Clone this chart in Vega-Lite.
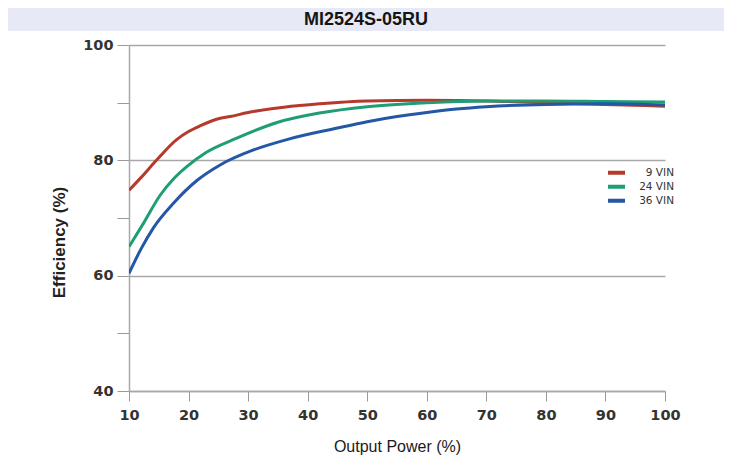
{
  "$schema": "https://vega.github.io/schema/vega-lite/v6.json",
  "padding": {"left": 8, "top": 8, "right": 0, "bottom": 0},
  "background": "white",
  "config": {"view": {"stroke": null}},
  "bounds": "flush",
  "spacing": 14,
  "vconcat": [
    {
      "width": 716,
      "height": 23,
      "view": {"fill": "#e7eaf6", "stroke": null},
      "data": {"values": [{"title": "MI2524S-05RU"}]},
      "mark": {"type": "text", "font": "Liberation Sans", "fontWeight": "bold", "fontSize": 18, "color": "#151515"},
      "encoding": {"text": {"field": "title", "type": "nominal"}}
    },
    {
      "bounds": "flush",
      "spacing": 21,
      "hconcat": [
        {
          "width": 100,
          "height": 346,
          "view": {"stroke": null},
          "data": {"values": []},
          "mark": "point",
          "encoding": {}
        },
        {
          "width": 536,
          "height": 346,
          "data": {
            "values": [
              {"vin": "9 VIN", "power": 10, "efficiency": 74.8},
              {"vin": "9 VIN", "power": 12, "efficiency": 77.0},
              {"vin": "9 VIN", "power": 14.6, "efficiency": 80.0},
              {"vin": "9 VIN", "power": 18, "efficiency": 83.6},
              {"vin": "9 VIN", "power": 20, "efficiency": 85.0},
              {"vin": "9 VIN", "power": 22, "efficiency": 86.0},
              {"vin": "9 VIN", "power": 25, "efficiency": 87.2},
              {"vin": "9 VIN", "power": 27, "efficiency": 87.6},
              {"vin": "9 VIN", "power": 30, "efficiency": 88.3},
              {"vin": "9 VIN", "power": 36, "efficiency": 89.2},
              {"vin": "9 VIN", "power": 42, "efficiency": 89.8},
              {"vin": "9 VIN", "power": 50, "efficiency": 90.3},
              {"vin": "9 VIN", "power": 60, "efficiency": 90.4},
              {"vin": "9 VIN", "power": 70, "efficiency": 90.3},
              {"vin": "9 VIN", "power": 80, "efficiency": 90.0},
              {"vin": "9 VIN", "power": 90, "efficiency": 89.7},
              {"vin": "9 VIN", "power": 100, "efficiency": 89.4},
              {"vin": "24 VIN", "power": 10, "efficiency": 65.0},
              {"vin": "24 VIN", "power": 12.5, "efficiency": 69.2},
              {"vin": "24 VIN", "power": 15.2, "efficiency": 73.9},
              {"vin": "24 VIN", "power": 17.5, "efficiency": 76.8},
              {"vin": "24 VIN", "power": 19.7, "efficiency": 78.9},
              {"vin": "24 VIN", "power": 23, "efficiency": 81.4},
              {"vin": "24 VIN", "power": 28, "efficiency": 83.8},
              {"vin": "24 VIN", "power": 35, "efficiency": 86.6},
              {"vin": "24 VIN", "power": 42, "efficiency": 88.2},
              {"vin": "24 VIN", "power": 50, "efficiency": 89.3},
              {"vin": "24 VIN", "power": 60, "efficiency": 90.0},
              {"vin": "24 VIN", "power": 70, "efficiency": 90.3},
              {"vin": "24 VIN", "power": 80, "efficiency": 90.3},
              {"vin": "24 VIN", "power": 90, "efficiency": 90.2},
              {"vin": "24 VIN", "power": 100, "efficiency": 90.1},
              {"vin": "36 VIN", "power": 10, "efficiency": 60.4},
              {"vin": "36 VIN", "power": 12, "efficiency": 64.6},
              {"vin": "36 VIN", "power": 14.1, "efficiency": 68.3},
              {"vin": "36 VIN", "power": 17.5, "efficiency": 72.6},
              {"vin": "36 VIN", "power": 21.4, "efficiency": 76.5},
              {"vin": "36 VIN", "power": 25.3, "efficiency": 79.2},
              {"vin": "36 VIN", "power": 30.9, "efficiency": 81.8},
              {"vin": "36 VIN", "power": 36.5, "efficiency": 83.6},
              {"vin": "36 VIN", "power": 45, "efficiency": 85.6},
              {"vin": "36 VIN", "power": 50, "efficiency": 86.7},
              {"vin": "36 VIN", "power": 55, "efficiency": 87.6},
              {"vin": "36 VIN", "power": 60, "efficiency": 88.3},
              {"vin": "36 VIN", "power": 65, "efficiency": 88.9},
              {"vin": "36 VIN", "power": 70, "efficiency": 89.3},
              {"vin": "36 VIN", "power": 80, "efficiency": 89.7},
              {"vin": "36 VIN", "power": 90, "efficiency": 89.8},
              {"vin": "36 VIN", "power": 100, "efficiency": 89.6}
            ]
          },
          "mark": {"type": "line", "strokeWidth": 3, "interpolate": "monotone", "clip": true},
          "encoding": {
            "x": {
              "field": "power",
              "type": "quantitative",
              "scale": {"domain": [10, 100], "nice": false},
              "axis": {
                "values": [10, 20, 30, 40, 50, 60, 70, 80, 90, 100],
                "grid": false,
                "tickSize": 10,
                "tickColor": "#999999",
                "domainColor": "#a8a8a8",
                "domainWidth": 1.5,
                "labelFont": "DejaVu Sans",
                "labelFontWeight": "bold",
                "labelFontSize": 14.5,
                "labelColor": "#333333",
                "labelPadding": 7,
                "labelFlush": false,
                "title": "Output Power (%)",
                "titleFont": "Liberation Sans",
                "titleFontSize": 16,
                "titleFontWeight": "normal",
                "titleColor": "#1a1a1a",
                "titlePadding": 17
              }
            },
            "y": {
              "field": "efficiency",
              "type": "quantitative",
              "scale": {"domain": [40, 100], "nice": false},
              "axis": {
                "values": [40, 50, 60, 70, 80, 90, 100],
                "grid": true,
                "gridColor": "#a8a8a8",
                "gridWidth": 1.5,
                "gridOpacity": {"condition": {"test": "datum.value % 20 == 0", "value": 1}, "value": 0},
                "labelExpr": "datum.value % 20 == 0 ? datum.label : ''",
                "tickSize": 12,
                "tickColor": "#999999",
                "domainColor": "#a8a8a8",
                "domainWidth": 1.5,
                "labelFont": "DejaVu Sans",
                "labelFontWeight": "bold",
                "labelFontSize": 14.5,
                "labelColor": "#333333",
                "labelPadding": 4,
                "title": "Efficiency (%)",
                "titleFont": "Liberation Sans",
                "titleFontSize": 17,
                "titleFontWeight": "bold",
                "titleColor": "#222222",
                "titlePadding": 14,
                "titleY": 197
              }
            },
            "color": {
              "field": "vin",
              "type": "nominal",
              "scale": {"domain": ["9 VIN", "24 VIN", "36 VIN"], "range": ["#b53a2c", "#1f9e74", "#2457a6"]},
              "legend": {
                "title": null,
                "orient": "none",
                "legendX": 598,
                "legendY": 158,
                "symbolType": "stroke",
                "symbolStrokeWidth": 4,
                "symbolSize": 289,
                "clipHeight": 13.5,
                "labelFont": "DejaVu Sans",
                "labelFontSize": 10.5,
                "labelColor": "#333333",
                "labelAlign": "right",
                "labelOffset": 47,
                "rowPadding": 0
              }
            }
          }
        }
      ]
    }
  ]
}
